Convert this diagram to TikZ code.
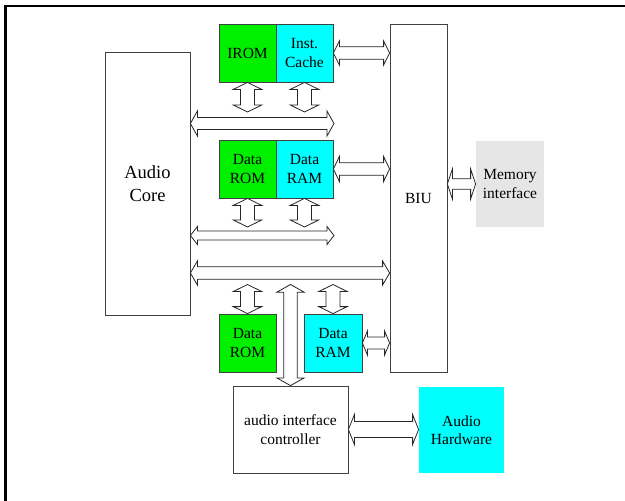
\documentclass[tikz,border=0pt]{standalone}
\usepackage{fontspec}
\setmainfont{Liberation Serif}
\usetikzlibrary{calc}
\definecolor{romgreen}{RGB}{0,240,0}
\definecolor{ramcyan}{RGB}{0,255,255}
\definecolor{memgray}{RGB}{230,230,230}

\begin{document}
\begin{tikzpicture}[x=1pt,y=-1pt]
\tikzset{
  block/.style={draw=black!75,line width=0.8pt,minimum width=57,minimum height=58,inner sep=1pt,align=center,font=\rmfamily\fontsize{15.5}{18.5}\selectfont},
  rom/.style={block,fill=romgreen},
  ram/.style={block,fill=ramcyan},
  hbus/.style n args={3}{draw=black!85,fill=white,line width=0.8pt,to path={
    let \p1=(\tikztostart), \p2=(\tikztotarget) in
    (\x1,\y1) -- (\x1+#3pt,\y1+#2pt) -- (\x1+#3pt,\y1+#1pt) -- (\x2-#3pt,\y1+#1pt) -- (\x2-#3pt,\y1+#2pt)
    -- (\x2,\y1) -- (\x2-#3pt,\y1-#2pt) -- (\x2-#3pt,\y1-#1pt) -- (\x1+#3pt,\y1-#1pt) -- (\x1+#3pt,\y1-#2pt) -- cycle}},
  vbus/.style n args={3}{draw=black!85,fill=white,line width=0.8pt,to path={
    let \p1=(\tikztostart), \p2=(\tikztotarget) in
    (\x1,\y1) -- (\x1+#2pt,\y1-#3pt) -- (\x1+#1pt,\y1-#3pt) -- (\x1+#1pt,\y2+#3pt) -- (\x1+#2pt,\y2+#3pt)
    -- (\x1,\y2) -- (\x1-#2pt,\y2+#3pt) -- (\x1-#1pt,\y2+#3pt) -- (\x1-#1pt,\y1-#3pt) -- (\x1-#2pt,\y1-#3pt) -- cycle}}
}
\useasboundingbox (0,0) rectangle (625,501);
\fill[white] (0,0) rectangle (625,501);
\draw[line width=2.7pt] (5.3,510) |- (630,6);

\node[block,minimum width=85,minimum height=263,font=\rmfamily\fontsize{18.5}{23.5}\selectfont] (n_core) at (147.5,183.5) {Audio\\Core};
\node[rom] (n_irom) at (247.5,53) {IROM};
\node[ram] (n_icache) at (304.5,53) {Inst.\\Cache};
\node[rom] (n_drom1) at (247.5,169) {Data\\ROM};
\node[ram] (n_dram1) at (304.5,169) {Data\\RAM};
\node[rom] (n_drom2) at (247.5,343) {Data\\ROM};
\node[ram,minimum width=58] (n_dram2) at (333,343) {Data\\RAM};
\node[block,minimum height=348] (n_biu) at (418.5,198) {BIU};
\node[block,draw=none,fill=memgray,minimum width=68,minimum height=86] (n_mem) at (510,184) {Memory\\interface};
\node[block,minimum width=115,minimum height=87] (n_aic) at (290.5,429.5) {audio interface\\controller};
\node[block,draw=none,fill=ramcyan,minimum width=85,minimum height=86] (n_ahw) at (461.5,430) {Audio\\Hardware};

\coordinate (b1e) at (334,123.5);
\coordinate (b1top) at (0,112);
\coordinate (b2e) at (334,235.5);
\coordinate (b2top) at (0,227);
\coordinate (b3) at (0,273);
\coordinate (b3bot) at (0,284.5);

\draw[hbus={6}{12.5}{7}] (n_core.east |- b1e) to (b1e);
\draw[hbus={4.5}{9}{7}] (n_core.east |- b2e) to (b2e);
\draw[hbus={6.3}{12}{7}] (n_core.east |- b3) to (n_biu.west |- b3);

\draw[vbus={7}{14.2}{7}] (n_irom.south) to (n_irom.south |- b1top);
\draw[vbus={7}{14.2}{7}] (n_icache.south) to (n_icache.south |- b1top);
\draw[vbus={7}{14.2}{7}] (n_drom1.south) to (n_drom1.south |- b2top);
\draw[vbus={7}{14.2}{7}] (n_dram1.south) to (n_dram1.south |- b2top);
\draw[vbus={7}{14.2}{7}] (n_drom2.north |- b3bot) to (n_drom2.north);
\draw[vbus={7}{14.2}{7}] (n_dram2.north |- b3bot) to (n_dram2.north);
\draw[vbus={6.7}{13.7}{7.7}] (n_aic.north |- b3bot) to (n_aic.north);

\draw[hbus={6.3}{12}{6}] (n_icache.east) to (n_icache.east -| n_biu.west);
\draw[hbus={6.3}{12.5}{6}] (n_dram1.east) to (n_dram1.east -| n_biu.west);
\draw[hbus={6}{12}{5}] (n_dram2.east) to (n_dram2.east -| n_biu.west);
\draw[hbus={5.3}{15}{5}] (n_biu.east |- n_mem) to (n_mem.west);
\draw[hbus={8}{15}{6}] (n_aic.east) to (n_ahw.west);
\end{tikzpicture}
\end{document}
